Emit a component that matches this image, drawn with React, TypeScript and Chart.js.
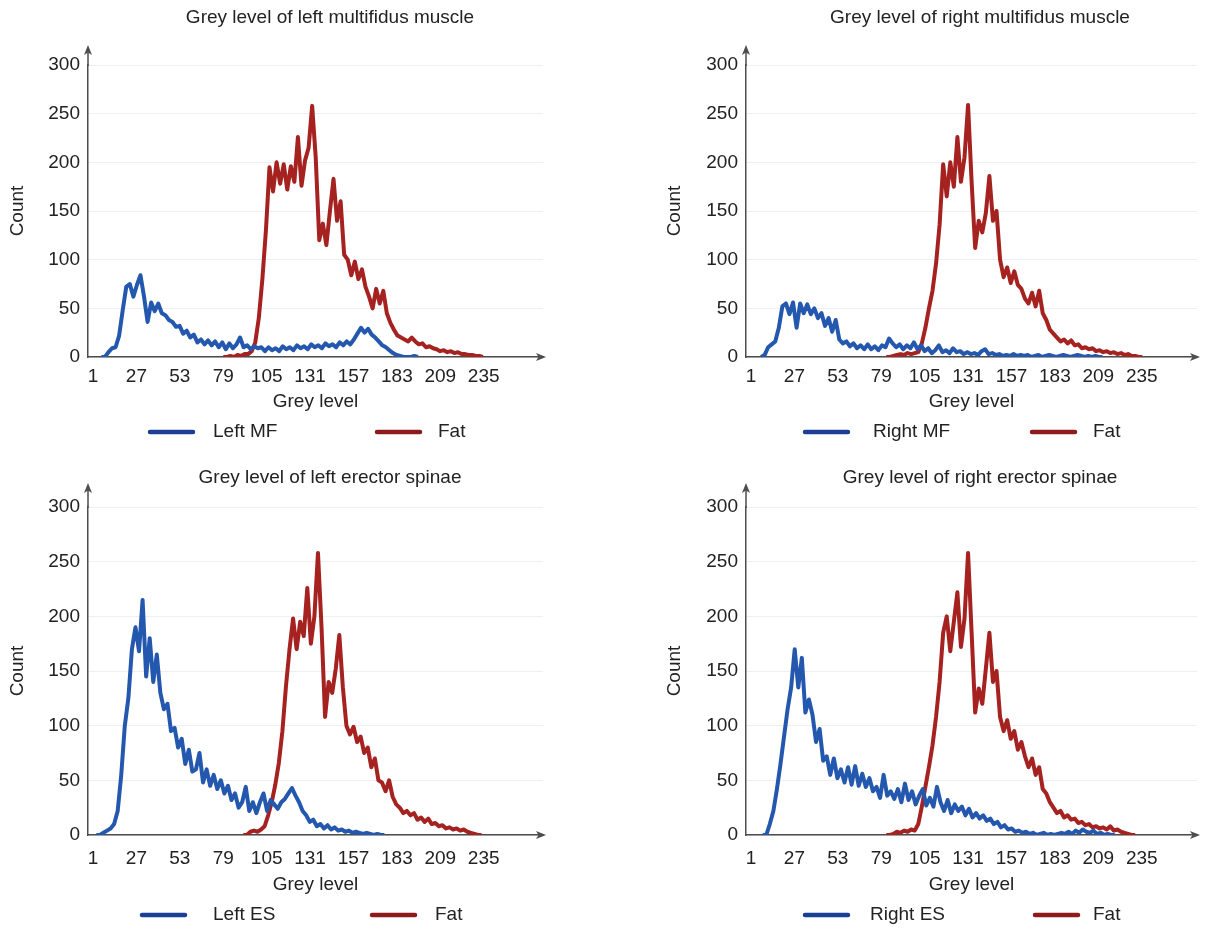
import React, { useEffect, useRef } from 'react';
import { Chart, registerables } from 'chart.js';

Chart.register(...registerables);

// ---------- tick labels ----------
const GREY_TICKS = [1, 27, 53, 79, 105, 131, 157, 183, 209, 235];
const COUNT_TICKS = [0, 50, 100, 150, 200, 250, 300];
// grey levels between consecutive readings in the value lists below
const SAMPLE_STEP = 2.13;

// ---------- left multifidus ----------
const leftMFStart = 6;
const leftMF = [
  0, 0, 5, 9, 10, 22, 48, 72, 75, 62,
  74, 84, 62, 36, 56, 47, 55, 45, 43, 38,
  36, 31, 32, 24, 27, 20, 23, 15, 18, 13,
  17, 12, 16, 10, 15, 8, 14, 9, 13, 20,
  10, 12, 8, 11, 9, 10, 6, 10, 7, 9,
  6, 11, 8, 10, 7, 12, 9, 11, 8, 13,
  10, 12, 9, 14, 11, 13, 10, 15, 12, 16,
  13, 18, 24, 30, 25, 29, 23, 20, 16, 12,
  10, 7, 4, 2, 1, 0, 0, 0, 1, 0,
];
const fatLeftMFStart = 79;
const fatLeftMF = [
  0, 0, 1, 0, 2, 1, 3, 3, 6, 15,
  40, 80, 130, 195, 170, 200, 178, 198, 172, 196,
  180, 226, 176, 202, 215, 258, 205, 120, 137, 115,
  150, 183, 140, 160, 105, 100, 84, 98, 80, 90,
  72, 62, 50, 70, 55, 68, 45, 35, 28, 22,
  20, 18, 16, 20, 16, 13, 14, 10, 11, 9,
  8, 6, 7, 5, 6, 4, 5, 3, 3, 2,
  2, 1, 1, 0,
];

// ---------- right multifidus ----------
const rightMFStart = 7;
const rightMF = [
  0, 2, 10, 13, 16, 30, 52, 55, 44, 56,
  30, 55, 45, 54, 44, 50, 40, 45, 32, 40,
  26, 38, 18, 14, 16, 11, 14, 9, 12, 8,
  13, 8, 11, 7, 12, 10, 19, 14, 10, 13,
  8, 12, 9, 15, 8, 12, 6, 9, 4, 7,
  12, 5, 7, 4, 9, 5, 6, 3, 5, 3,
  4, 2, 6, 8, 3, 4, 2, 3, 1, 2,
  1, 3, 1, 2, 1, 2, 0, 1, 2, 0,
  1, 2, 1, 0, 1, 2, 1, 0, 1, 2,
  1, 0, 1, 0, 1, 0, 0,
];
const fatRightMFStart = 82;
const fatRightMF = [
  0, 0, 1, 2, 3, 2, 4, 3, 4, 5,
  14, 30, 50, 68, 96, 136, 198, 165, 200, 175,
  226, 180, 205, 259, 180, 112, 140, 128, 148, 186,
  140, 150, 100, 82, 92, 76, 88, 74, 70, 60,
  55, 66, 52, 68, 45, 38, 28, 24, 20, 16,
  18, 14, 17, 12, 13, 9, 10, 8, 9, 6,
  7, 5, 6, 4, 5, 3, 4, 2, 3, 1,
  1, 0, 0,
];

// ---------- left erector spinae ----------
const leftESStart = 3;
const leftES = [
  0, 0, 2, 4, 6, 10, 22, 55, 100, 125,
  170, 190, 168, 215, 145, 180, 140, 165, 130, 115,
  120, 95, 98, 80, 88, 65, 78, 58, 60, 75,
  48, 60, 45, 55, 42, 50, 38, 45, 32, 38,
  25, 30, 44, 22, 30, 20, 30, 38, 22, 32,
  28, 24, 30, 33, 38, 43, 36, 30, 22, 18,
  12, 14, 8, 10, 6, 9, 5, 7, 4, 5,
  3, 4, 2, 3, 2, 1, 2, 1, 0, 1,
  0, 0,
];
const fatLeftESStart = 91;
const fatLeftES = [
  0, 0, 3, 4, 3, 5, 8, 18, 30, 46,
  66, 95, 136, 170, 198, 170, 195, 182, 226, 175,
  200, 258, 190, 108, 140, 130, 152, 183, 135, 100,
  92, 99, 85, 90, 75, 80, 62, 70, 50, 48,
  40, 50, 35, 28, 25, 20, 22, 18, 20, 14,
  16, 12, 15, 10, 11, 8, 9, 6, 7, 5,
  6, 4, 5, 3, 2, 1, 0, 0,
];

// ---------- right erector spinae ----------
const rightESStart = 8;
const rightES = [
  0, 0, 10, 22, 42, 65, 90, 115, 135, 170,
  135, 162, 112, 124, 110, 85, 97, 68, 72, 55,
  70, 52, 60, 48, 62, 46, 63, 45, 56, 44,
  52, 40, 44, 34, 55, 36, 40, 33, 42, 30,
  47, 32, 40, 28, 36, 42, 27, 34, 26, 44,
  30, 22, 32, 20, 28, 22, 26, 18, 24, 16,
  20, 15, 18, 13, 15, 10, 12, 7, 9, 5,
  6, 3, 4, 2, 3, 1, 2, 0, 1, 2,
  0, 1, 0, 1, 2, 1, 3, 1, 4, 2,
  5, 3, 2, 4, 1, 2, 0, 1, 0, 0,
];
const fatRightESStart = 82;
const fatRightES = [
  0, 0, 1, 3, 2, 4, 3, 5, 4, 10,
  26, 44, 62, 82, 108, 140, 185, 200, 168, 195,
  222, 172, 198, 258, 185, 112, 134, 120, 152, 185,
  140, 150, 108, 95, 105, 88, 95, 78, 85, 72,
  62, 70, 55, 62, 42, 38, 30, 25, 20, 22,
  16, 18, 14, 15, 11, 12, 9, 10, 7, 8,
  6, 7, 5, 8, 4, 5, 3, 2, 1, 0,
  0,
];

// ---------- styling ----------
const FONT = '"Liberation Sans", Arial, Helvetica, sans-serif';
const TEXT = '#222222';
const AXIS = '#4d4d4d';
const BLUE = '#2457ae';
const RED = '#a52220';
const LEGEND_COLORS = ['#1c3f96', '#8e1b1b'];

type PanelSpec = {
  key: string;
  title: string;
  muscleLabel: string;
  muscleStart: number;
  muscle: number[];
  fatStart: number;
  fat: number[];
  left: number;
  top: number;
  width: number;
  height: number;
  yWidth: number;
  rightWidth: number;
  xMin: number;
  xMax: number;
  titlePadTop: number;
  titlePadBottom: number;
  xHeight: number;
  padBottom: number;
  xTickPad: number;
  xTitlePadBottom: number;
  yTitlePad: number;
  yExt: number;
  legendY: number;
  legend: number[];
};

const PANELS: PanelSpec[] = [
  {
    key: 'tl', title: 'Grey level of left multifidus muscle', muscleLabel: 'Left MF',
    muscleStart: leftMFStart, muscle: leftMF, fatStart: fatLeftMFStart, fat: fatLeftMF,
    left: 0, top: 0, width: 660, height: 464, yWidth: 88, rightWidth: 117, xMin: -2, xMax: 270.5,
    titlePadTop: 6.6, titlePadBottom: 35.6, xHeight: 57.5, padBottom: 49.5, xTickPad: 8.6,
    xTitlePadBottom: 1.4, yTitlePad: 6.6, yExt: 20, legendY: 432, legend: [148, 213, 375, 438],
  },
  {
    key: 'tr', title: 'Grey level of right multifidus muscle', muscleLabel: 'Right MF',
    muscleStart: rightMFStart, muscle: rightMF, fatStart: fatRightMFStart, fat: fatRightMF,
    left: 603, top: 0, width: 754, height: 464, yWidth: 143, rightWidth: 160, xMin: -2, xMax: 268.1,
    titlePadTop: 6.6, titlePadBottom: 35.6, xHeight: 57.5, padBottom: 49.5, xTickPad: 8.6,
    xTitlePadBottom: 1.4, yTitlePad: 60.6, yExt: 20, legendY: 432, legend: [200, 270, 427, 490],
  },
  {
    key: 'bl', title: 'Grey level of left erector spinae', muscleLabel: 'Left ES',
    muscleStart: leftESStart, muscle: leftES, fatStart: fatLeftESStart, fat: fatLeftES,
    left: 0, top: 464, width: 660, height: 465, yWidth: 88, rightWidth: 117, xMin: -2, xMax: 270.5,
    titlePadTop: 2.6, titlePadBottom: 17.6, xHeight: 63, padBottom: 31, xTickPad: 12.6,
    xTitlePadBottom: 1.6, yTitlePad: 6.6, yExt: 24, legendY: 451, legend: [140, 213, 370, 435],
  },
  {
    key: 'br', title: 'Grey level of right erector spinae', muscleLabel: 'Right ES',
    muscleStart: rightESStart, muscle: rightES, fatStart: fatRightESStart, fat: fatRightES,
    left: 603, top: 464, width: 754, height: 465, yWidth: 143, rightWidth: 160, xMin: -2, xMax: 268.1,
    titlePadTop: 2.6, titlePadBottom: 17.6, xHeight: 63, padBottom: 31, xTickPad: 12.6,
    xTitlePadBottom: 1.6, yTitlePad: 60.6, yExt: 24, legendY: 451, legend: [200, 267, 430, 490],
  },
];

const toPoints = (start: number, values: number[]) =>
  values.map((v, i) => ({ x: start + i * SAMPLE_STEP, y: v }));

function makeDecor(spec: PanelSpec) {
  return {
    id: 'decor_' + spec.key,
    afterDraw(chart: any) {
      const { ctx } = chart;
      const { left, right, top, bottom } = chart.chartArea;
      ctx.save();
      ctx.strokeStyle = AXIS;
      ctx.fillStyle = AXIS;
      ctx.lineWidth = 1.5;
      const tip = top - spec.yExt;
      ctx.beginPath();
      ctx.moveTo(left, top + 1);
      ctx.lineTo(left, tip + 6);
      ctx.stroke();
      ctx.beginPath();
      ctx.moveTo(left, tip);
      ctx.lineTo(left - 4, tip + 10);
      ctx.lineTo(left, tip + 7.5);
      ctx.lineTo(left + 4, tip + 10);
      ctx.closePath();
      ctx.fill();
      ctx.beginPath();
      ctx.moveTo(right + 3, bottom);
      ctx.lineTo(right - 7, bottom - 4);
      ctx.lineTo(right - 4.5, bottom);
      ctx.lineTo(right - 7, bottom + 4);
      ctx.closePath();
      ctx.fill();

      // legend
      ctx.font = `19px ${FONT}`;
      ctx.textBaseline = 'middle';
      ctx.textAlign = 'left';
      ctx.lineCap = 'round';
      chart.data.datasets.forEach((ds: any, i: number) => {
        const sx = spec.legend[i * 2];
        const tx = spec.legend[i * 2 + 1];
        ctx.strokeStyle = LEGEND_COLORS[i];
        ctx.lineWidth = 4.5;
        ctx.beginPath();
        ctx.moveTo(sx + 2, spec.legendY);
        ctx.lineTo(sx + 45, spec.legendY);
        ctx.stroke();
        ctx.fillStyle = TEXT;
        ctx.fillText(ds.label, tx, spec.legendY);
      });
      ctx.restore();
    },
  };
}

function Panel({ spec }: { spec: PanelSpec }) {
  const ref = useRef<HTMLCanvasElement | null>(null);
  useEffect(() => {
    const canvas = ref.current;
    if (!canvas) return;
    const tickFont = { family: FONT, size: 19 };
    const chart = new Chart(canvas, {
      type: 'line',
      data: {
        datasets: [
          {
            label: spec.muscleLabel,
            data: toPoints(spec.muscleStart, spec.muscle),
            borderColor: BLUE,
            backgroundColor: BLUE,
            borderWidth: 4,
            pointRadius: 0,
            tension: 0,
            borderJoinStyle: 'round',
            fill: false,
          },
          {
            label: 'Fat',
            data: toPoints(spec.fatStart, spec.fat),
            borderColor: RED,
            backgroundColor: RED,
            borderWidth: 4,
            pointRadius: 0,
            tension: 0,
            borderJoinStyle: 'round',
            fill: false,
          },
        ],
      },
      options: {
        animation: false,
        responsive: false,
        maintainAspectRatio: false,
        devicePixelRatio: 1,
        events: [],
        layout: { padding: { left: 0, right: 0, top: 0, bottom: spec.padBottom } },
        plugins: {
          legend: { display: false },
          tooltip: { enabled: false },
          title: {
            display: true,
            text: spec.title,
            color: TEXT,
            font: { family: FONT, size: 19, weight: 'normal' },
            padding: { top: spec.titlePadTop, bottom: spec.titlePadBottom },
          },
        },
        scales: {
          x: {
            type: 'linear',
            min: spec.xMin,
            max: spec.xMax,
            grid: { display: false, drawTicks: false },
            border: { display: true, color: AXIS, width: 1.5 },
            ticks: { color: TEXT, font: tickFont, padding: spec.xTickPad, autoSkip: false, maxRotation: 0 },
            afterBuildTicks: (s: any) => {
              s.ticks = GREY_TICKS.map((v) => ({ value: v }));
            },
            afterFit: (s: any) => {
              s.height = spec.xHeight;
            },
            title: {
              display: true,
              text: 'Grey level',
              color: TEXT,
              font: tickFont,
              padding: { top: 0, bottom: spec.xTitlePadBottom },
            },
          },
          y: {
            type: 'linear',
            min: 0,
            max: 300,
            grid: { color: '#efefef', drawTicks: false, lineWidth: 1 },
            border: { display: true, color: AXIS, width: 1.5 },
            ticks: { color: TEXT, font: tickFont, padding: 8, stepSize: 50 },
            afterBuildTicks: (s: any) => {
              s.ticks = COUNT_TICKS.map((v) => ({ value: v }));
            },
            afterFit: (s: any) => {
              s.width = spec.yWidth;
            },
            title: {
              display: true,
              text: 'Count',
              color: TEXT,
              font: tickFont,
              padding: { top: spec.yTitlePad, bottom: 0 },
            },
          },
          pad: {
            type: 'linear',
            position: 'right',
            display: true,
            grid: { display: false, drawTicks: false },
            border: { display: false },
            ticks: { display: false },
            afterFit: (s: any) => {
              s.width = spec.rightWidth;
            },
          },
        },
      } as any,
      plugins: [makeDecor(spec)],
    });
    return () => chart.destroy();
  }, [spec]);
  return (
    <canvas
      ref={ref}
      width={spec.width}
      height={spec.height}
      style={{ position: 'absolute', left: spec.left, top: spec.top, width: spec.width, height: spec.height }}
    />
  );
}

export default function App() {
  return (
    <div
      style={{
        position: 'absolute',
        left: 0,
        top: 0,
        width: 1206,
        height: 929,
        overflow: 'hidden',
        background: '#ffffff',
      }}
    >
      {PANELS.map((p) => (
        <Panel key={p.key} spec={p} />
      ))}
    </div>
  );
}
